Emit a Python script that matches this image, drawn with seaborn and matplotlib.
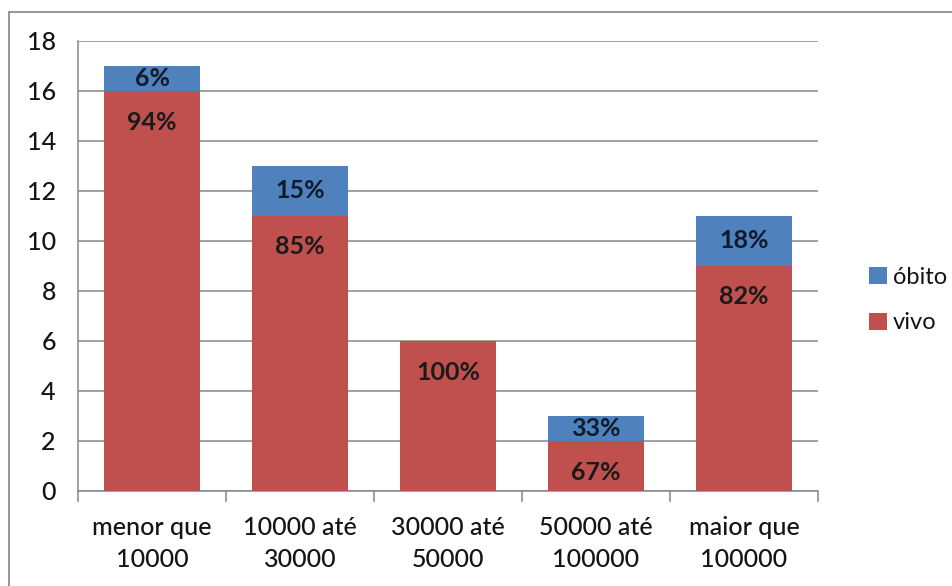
import matplotlib
matplotlib.use("Agg")
import matplotlib.pyplot as plt
from matplotlib.lines import Line2D
from matplotlib.patches import Patch
import seaborn as sns
import pandas as pd

categories = ["menor que\n10000", "10000 até\n30000", "30000 até\n50000",
              "50000 até\n100000", "maior que\n100000"]
vivo = [16, 11, 6, 2, 9]
obito = [1, 2, 0, 1, 2]
y_ticks = [0, 2, 4, 6, 8, 10, 12, 14, 16, 18]

RED = "#C0504D"
BLUE = "#4F81BD"
GRID = "#878787"
TXT = "#141414"

sns.set_theme(style="white")
plt.rcParams["font.family"] = ["Lato", "DejaVu Sans"]

df = pd.DataFrame({"faixa": categories, "vivo": vivo, "obito": obito})
df["total"] = df["vivo"] + df["obito"]

fig = plt.figure(figsize=(9.53, 5.86), dpi=100)
ax = fig.add_axes([78 / 953, 1 - 491 / 586, (818 - 78) / 953, (491 - 41) / 586])

# stacked bars: total in blue, vivo drawn over it in red
sns.barplot(data=df, x="faixa", y="total", color=BLUE, saturation=1,
            width=0.655, linewidth=0, ax=ax, zorder=3)
sns.barplot(data=df, x="faixa", y="vivo", color=RED, saturation=1,
            width=0.655, linewidth=0, ax=ax, zorder=4)

ax.set_ylim(0, 18)
ax.set_xlim(-0.5, len(categories) - 0.5)
ax.set_yticks(y_ticks)
ax.set_xlabel("")
ax.set_ylabel("")
ax.yaxis.grid(True, color=GRID, linewidth=1.1, zorder=0)
ax.set_axisbelow(True)

for s in ["top", "right"]:
    ax.spines[s].set_visible(False)
for s in ["left", "bottom"]:
    ax.spines[s].set_color(GRID)
    ax.spines[s].set_linewidth(1.1)

ax.tick_params(axis="y", which="major", length=8, width=1.1, color=GRID,
               labelsize=18, pad=8, labelcolor=TXT)
ax.tick_params(axis="x", which="major", length=0, labelsize=18, pad=18,
               labelcolor=TXT)
ax.set_xticks([i + 0.5 for i in range(-1, len(categories))], minor=True)
ax.tick_params(axis="x", which="minor", length=8, width=1.1, color=GRID,
               direction="out", bottom=True)
for lbl in ax.get_xticklabels() + ax.get_yticklabels():
    lbl.set_fontweight("medium")
for lbl in ax.get_xticklabels():
    lbl.set_linespacing(1.45)

# percentage labels
for i, (v, o) in enumerate(zip(vivo, obito)):
    tot = v + o
    pv = round(100 * v / tot)
    ax.annotate(f"{pv}%", xy=(i, v), xytext=(0, -31), textcoords="offset pixels",
                ha="center", va="center", fontsize=18, fontweight="bold",
                color="#1a1a1a", zorder=6)
    if o > 0:
        po = round(100 * o / tot)
        ax.text(i, v + o / 2, f"{po}%", ha="center", va="center",
                fontsize=18, fontweight="bold", color="#0f1a2a", zorder=6)

handles = [Patch(facecolor=BLUE, edgecolor="none", label="óbito"),
           Patch(facecolor=RED, edgecolor="none", label="vivo")]
fig.legend(handles=handles, loc="center left",
           bbox_to_anchor=(848 / 953, 1 - 300 / 586), frameon=False,
           fontsize=17, handlelength=0.75, handleheight=0.75, handletextpad=0.25,
           labelspacing=1.05, labelcolor=TXT)

# chart frame lines (top and left)
fig.add_artist(Line2D([9 / 953, 1], [1 - 12 / 586, 1 - 12 / 586],
                      transform=fig.transFigure, color="#8c8c8c", linewidth=1.3))
fig.add_artist(Line2D([9 / 953, 9 / 953], [0, 1 - 12 / 586],
                      transform=fig.transFigure, color="#8c8c8c", linewidth=1.3))

fig.savefig("out.png", dpi=100, facecolor="white")
